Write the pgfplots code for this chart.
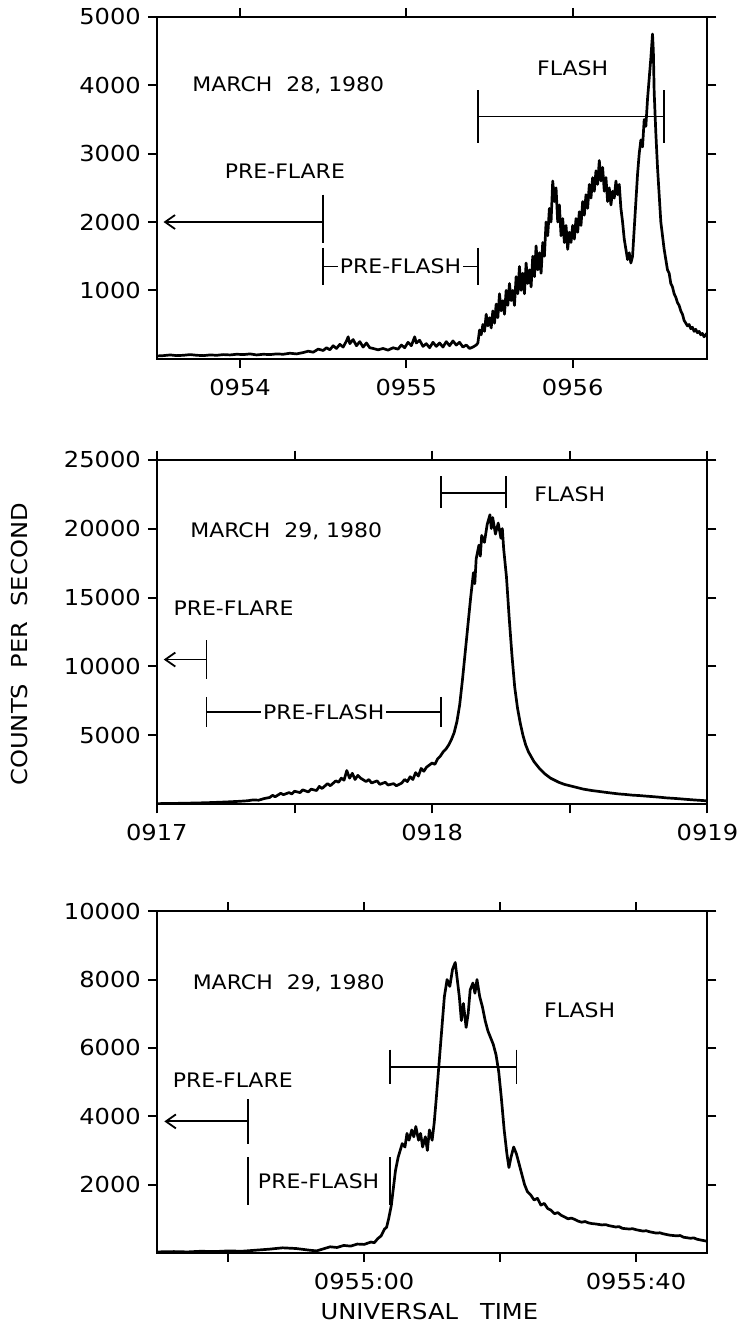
\documentclass[border=0pt]{standalone}
\usepackage{fontspec}
\setmainfont{DejaVu Sans}[FakeStretch=1.1]
\usepackage{pgfplots}
\pgfplotsset{compat=1.18}
\usetikzlibrary{arrows.meta}
\newcommand{\fs}{\fontsize{11}{13}\selectfont}
\tikzset{ann/.style={line width=0.9pt}}
\pgfplotsset{
  panel/.style={
    scale only axis, width=275.5pt,
    axis line style={line width=1pt},
    tick align=outside, major tick length=4.5pt,
    every tick/.style={line width=1pt, black},
    /pgf/number format/assume math mode=true,
    /pgf/number format/1000 sep={},
    scaled y ticks=false,
    ticklabel style={font=\fs},
    xticklabel style={yshift=-2pt},
    every node/.append style={font=\fs},
  },
  curve/.style={black, line width=1.35pt, line join=round},
}
\begin{document}
\begin{tikzpicture}
\path (0pt,0pt) rectangle (366.5pt,-663pt);
% ---------------- Panel 1 ----------------
\begin{axis}[panel, at={(78.5pt,-179.5pt)}, anchor=south west, height=171pt,
  xmin=-0.5, xmax=2.81, ymin=0, ymax=5000,
  xtick={0,1,2}, xticklabels={0954,0955,0956},
  ytick={1000,2000,3000,4000,5000}]
\addplot[curve] coordinates {
(-0.50,40) (-0.46,45) (-0.42,55) (-0.38,45) (-0.34,50) (-0.30,60) (-0.26,50) (-0.22,45)
(-0.18,55) (-0.14,50) (-0.10,60) (-0.06,55) (-0.02,65) (0.02,60) (0.06,70) (0.10,55)
(0.14,65) (0.18,60) (0.22,70) (0.26,65) (0.30,80) (0.34,70) (0.38,90) (0.41,110)
(0.44,95) (0.47,140) (0.50,120) (0.52,160) (0.54,130) (0.56,190) (0.58,150) (0.60,210)
(0.62,170) (0.64,260) (0.65,320) (0.66,220) (0.68,280) (0.70,190) (0.72,250) (0.74,170)
(0.76,230) (0.78,160) (0.80,150) (0.83,130) (0.86,150) (0.89,125) (0.92,160) (0.95,140)
(0.97,200) (0.99,160) (1.01,240) (1.03,190) (1.05,320) (1.06,230) (1.08,270) (1.10,180)
(1.12,220) (1.14,160) (1.16,240) (1.18,180) (1.20,230) (1.22,170) (1.24,250) (1.26,190)
(1.28,260) (1.30,200) (1.32,240) (1.34,170) (1.36,200) (1.38,150) (1.40,170) (1.42,200)
(1.43,230) (1.44,420) (1.45,350) (1.46,500) (1.47,400) (1.48,650) (1.49,480) (1.50,600)
(1.51,450) (1.52,700) (1.53,520) (1.54,800) (1.55,600) (1.56,950) (1.57,700) (1.58,850)
(1.59,650) (1.60,1000) (1.61,780) (1.62,1100) (1.63,850) (1.64,1000) (1.65,780) (1.66,1200)
(1.67,950) (1.68,1350) (1.69,1000) (1.70,1250) (1.71,950) (1.72,1400) (1.73,1100) (1.74,1300)
(1.75,1050) (1.76,1500) (1.77,1200) (1.78,1650) (1.79,1300) (1.80,1550) (1.81,1250) (1.82,1700)
(1.83,1500) (1.84,2000) (1.85,1800) (1.86,2200) (1.87,2000) (1.88,2600) (1.89,2300) (1.90,2500)
(1.91,2000) (1.92,2250) (1.93,1800) (1.94,2050) (1.95,1700) (1.96,1950) (1.97,1600) (1.98,1850)
(1.99,1700) (2.00,1950) (2.01,1750) (2.02,2050) (2.03,1850) (2.04,2150) (2.05,1950) (2.06,2300)
(2.07,2100) (2.08,2400) (2.09,2200) (2.10,2550) (2.11,2350) (2.12,2650) (2.13,2450) (2.14,2750)
(2.15,2550) (2.16,2900) (2.17,2600) (2.18,2800) (2.19,2450) (2.20,2650) (2.21,2300) (2.22,2500)
(2.23,2250) (2.24,2450) (2.25,2350) (2.26,2600) (2.27,2400) (2.28,2550) (2.29,2200) (2.30,2000)
(2.31,1750) (2.32,1600) (2.33,1450) (2.34,1550) (2.35,1400) (2.36,1500) (2.37,1900) (2.38,2300)
(2.39,2700) (2.40,3000) (2.41,3200) (2.42,3100) (2.43,3500) (2.44,3400) (2.45,3800) (2.46,4100)
(2.47,4400) (2.48,4750) (2.485,4500) (2.49,3900) (2.50,3300) (2.51,2800) (2.52,2400) (2.53,2000)
(2.54,1800) (2.55,1600) (2.56,1450) (2.57,1300) (2.58,1250) (2.59,1100) (2.60,1050) (2.61,950)
(2.62,900) (2.63,820) (2.64,780) (2.65,700) (2.66,650) (2.67,560) (2.68,520) (2.69,480)
(2.70,500) (2.71,440) (2.72,460) (2.73,400) (2.74,430) (2.75,380) (2.76,400) (2.77,350)
(2.78,370) (2.79,320) (2.80,350) (2.81,380)
};
\node at (axis cs:0.29,4000) {MARCH\ \ 28,\ 1980};
\node at (axis cs:2.0,4250) {FLASH};
\draw[ann] (axis cs:1.43,3930) -- (axis cs:1.43,3160);
\draw[ann] (axis cs:2.55,3930) -- (axis cs:2.55,3160);
\draw[ann] (axis cs:1.43,3545) -- (axis cs:2.55,3545);
\node at (axis cs:0.27,2750) {PRE-FLARE};
\draw[ann] (axis cs:0.5,2400) -- (axis cs:0.5,1700);
\draw[ann,-{Straight Barb[length=5pt,width=7pt]}] (axis cs:0.5,2000) -- (axis cs:-0.46,2000);
\draw[ann] (axis cs:0.5,1620) -- (axis cs:0.5,1080);
\draw[ann] (axis cs:1.43,1620) -- (axis cs:1.43,1080);
\draw[ann] (axis cs:0.5,1350) -- (axis cs:1.43,1350);
\node[fill=white, inner sep=1pt] at (axis cs:0.965,1350) {PRE-FLASH};
\end{axis}
% ---------------- Panel 2 ----------------
\begin{axis}[panel, at={(78.5pt,-402.5pt)}, anchor=south west, height=172.5pt,
  xmin=0, xmax=2, ymin=0, ymax=25000,
  xtick={0,0.5,1,1.5,2}, xticklabels={0917,,0918,,0919},
  ytick={5000,10000,15000,20000,25000},
  ylabel={COUNTS\ \ PER\ \ SECOND},
  ylabel style={font=\fs, at={(axis description cs:-0.25,0.464)}, anchor=center}]
\addplot[curve] coordinates {
(0.00,50) (0.05,60) (0.10,80) (0.15,100) (0.20,130) (0.25,170) (0.30,220) (0.33,260)
(0.35,320) (0.37,300) (0.39,420) (0.41,500) (0.42,650) (0.43,550) (0.45,800) (0.46,700)
(0.48,850) (0.49,750) (0.50,950) (0.52,850) (0.53,1050) (0.55,900) (0.56,1100) (0.58,1000)
(0.59,1300) (0.60,1150) (0.62,1500) (0.63,1350) (0.65,1700) (0.66,1600) (0.67,1900) (0.68,1750)
(0.69,2450) (0.70,1900) (0.71,2250) (0.72,1800) (0.73,2100) (0.74,1900) (0.76,1650) (0.77,1800)
(0.78,1550) (0.80,1700) (0.81,1450) (0.83,1600) (0.84,1400) (0.86,1500) (0.87,1350) (0.89,1550)
(0.90,1800) (0.91,1650) (0.92,2000) (0.93,1800) (0.94,2300) (0.95,2050) (0.96,2600) (0.97,2400)
(0.98,2700) (1.00,3000) (1.01,2900) (1.02,3300) (1.03,3500) (1.04,3800) (1.05,4000) (1.06,4300)
(1.07,4700) (1.08,5200) (1.09,6000) (1.10,7200) (1.11,9000) (1.12,11000) (1.13,13000) (1.14,15000)
(1.15,16800) (1.155,16000) (1.16,17800) (1.17,18800) (1.175,18000) (1.18,19500) (1.19,19000) (1.20,20300)
(1.21,21000) (1.215,20000) (1.22,20800) (1.23,19600) (1.24,20400) (1.25,19300) (1.255,20000) (1.26,18500)
(1.27,16500) (1.28,13500) (1.29,10800) (1.30,8500) (1.31,7000) (1.32,5900) (1.33,5000) (1.34,4300)
(1.35,3800) (1.37,3100) (1.39,2600) (1.41,2200) (1.43,1900) (1.46,1600) (1.48,1450) (1.50,1350)
(1.53,1200) (1.55,1100) (1.58,1000) (1.60,950) (1.63,870) (1.65,820) (1.68,750) (1.70,720)
(1.73,660) (1.75,640) (1.78,590) (1.80,560) (1.83,510) (1.85,470) (1.88,430) (1.90,400)
(1.93,350) (1.95,320) (1.98,280) (2.00,250)
};
\node at (axis cs:0.47,19800) {MARCH\ \ 29,\ 1980};
\node at (axis cs:1.50,22500) {FLASH};
\draw[ann] (axis cs:1.032,23800) -- (axis cs:1.032,21500);
\draw[ann] (axis cs:1.267,23800) -- (axis cs:1.267,21500);
\draw[ann] (axis cs:1.032,22600) -- (axis cs:1.267,22600);
\node[anchor=west] at (axis cs:0.035,14200) {PRE-FLARE};
\draw[ann] (axis cs:0.18,11900) -- (axis cs:0.18,9100);
\draw[ann,-{Straight Barb[length=5pt,width=7pt]}] (axis cs:0.18,10500) -- (axis cs:0.025,10500);
\draw[ann] (axis cs:0.18,7800) -- (axis cs:0.18,5600);
\draw[ann] (axis cs:1.032,7800) -- (axis cs:1.032,5600);
\draw[ann] (axis cs:0.18,6700) -- (axis cs:1.032,6700);
\node[fill=white, inner sep=1pt] at (axis cs:0.606,6700) {PRE-FLASH};
\end{axis}
% ---------------- Panel 3 ----------------
\begin{axis}[panel, at={(78.5pt,-627pt)}, anchor=south west, height=171pt,
  xmin=-30.5, xmax=50.5, ymin=0, ymax=10000,
  xtick={-20,0,20,40}, xticklabels={,0955:00,,0955:40},
  ytick={2000,4000,6000,8000,10000},
  xlabel={UNIVERSAL\quad TIME},
  xlabel style={font=\fs, at={(axis description cs:0.495,-0.17)}, anchor=center}]
\addplot[curve] coordinates {
(-30.5,30) (-28,40) (-26,30) (-24,50) (-22,40) (-20,60) (-18,50) (-16,80)
(-14,110) (-12,150) (-10,130) (-8,80) (-7,60) (-6,120) (-5,180) (-4,160)
(-3,220) (-2,200) (-1,260) (0,250) (1,320) (1.5,300) (2,420) (2.5,500)
(3,700) (3.3,750) (3.6,1000) (4,1400) (4.3,1900) (4.6,2400) (5,2800) (5.3,3000)
(5.6,3200) (6,3100) (6.3,3500) (6.6,3300) (7,3600) (7.3,3400) (7.6,3700) (8,3300)
(8.3,3500) (8.6,3100) (9,3400) (9.3,3000) (9.6,3600) (10,3300) (10.3,3800) (10.6,4500)
(11,5500) (11.4,6500) (11.8,7500) (12.2,8000) (12.6,7800) (13,8300) (13.4,8500) (13.7,8000)
(14,7500) (14.3,6800) (14.6,7300) (15,6600) (15.3,7000) (15.6,7700) (16,7900) (16.3,7600)
(16.6,8000) (17,7500) (17.4,7200) (17.8,6800) (18.2,6500) (18.6,6300) (19,6100) (19.4,5800)
(19.8,5300) (20.2,4500) (20.6,3600) (21,2900) (21.3,2500) (21.6,2800) (22,3100) (22.4,2900)
(22.8,2600) (23.2,2300) (23.6,2000) (24,1800) (24.5,1700) (25,1550) (25.5,1600) (26,1400)
(26.5,1450) (27,1300) (27.5,1250) (28,1150) (28.5,1180) (29,1100) (29.5,1050) (30,1000)
(30.5,1020) (31,980) (31.5,930) (32,900) (32.5,920) (33,880) (33.5,860) (34,850)
(35,820) (35.5,830) (36,800) (37,760) (37.5,770) (38,720) (39,700) (39.5,710)
(40,680) (41,640) (41.5,650) (42,620) (43,580) (43.5,590) (44,560) (45,520)
(46,500) (46.5,510) (47,460) (48,430) (48.5,440) (49,400) (50,360) (50.5,340)
};
\node at (axis cs:-11.1,7900) {MARCH\ \ 29,\ 1980};
\node at (axis cs:31.7,7100) {FLASH};
\draw[ann] (axis cs:3.75,5950) -- (axis cs:3.75,4950);
\draw[ann] (axis cs:22.4,5950) -- (axis cs:22.4,4950);
\draw[ann] (axis cs:3.75,5450) -- (axis cs:22.4,5450);
\node[anchor=west] at (axis cs:-29.2,5050) {PRE-FLARE};
\draw[ann] (axis cs:-17.1,4500) -- (axis cs:-17.1,3200);
\draw[ann,-{Straight Barb[length=5pt,width=7pt]}] (axis cs:-17.1,3850) -- (axis cs:-29.4,3850);
\draw[ann] (axis cs:-17.1,2800) -- (axis cs:-17.1,1400);
\draw[ann] (axis cs:3.75,2800) -- (axis cs:3.75,1400);
\node[fill=white, inner sep=0.5pt] at (axis cs:-6.7,2100) {PRE-FLASH};
\end{axis}
\end{tikzpicture}
\end{document}
